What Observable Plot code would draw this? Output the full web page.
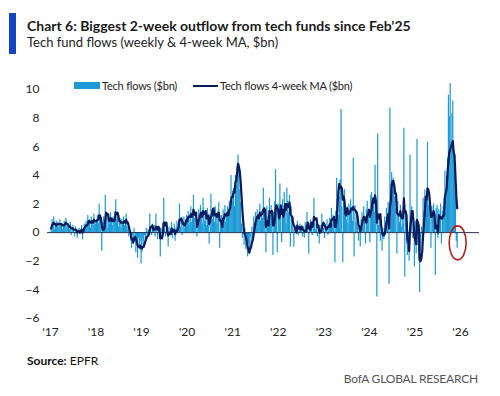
<!DOCTYPE html>
<html>
<head>
<meta charset="utf-8">
<script src="https://cdn.jsdelivr.net/npm/d3@7"></script>
<script src="https://cdn.jsdelivr.net/npm/@observablehq/plot@0.6"></script>
<style>
  html, body { margin: 0; padding: 0; background: #fff; }
  #wrap { position: relative; width: 500px; height: 396px; overflow: hidden; background: #fff; font-family: Lato, "Liberation Sans", sans-serif; color: #1a1a1a; }
  .abs { position: absolute; white-space: nowrap; }
  #chart { position: absolute; left: 0; top: 0; }
  .lg { position: absolute; font-size: 11px; line-height: 12px; color: #222; letter-spacing: -0.2px; top: 80px; }
</style>
</head>
<body>
<div id="wrap">
  <div class="abs" style="left:9px;top:13px;width:7px;height:41px;background:#1446c0"></div>
  <div class="abs" style="left:27px;top:19px;font-weight:700;font-size:14px;line-height:14px">Chart 6: Biggest 2-week outflow from tech funds since Feb’25</div>
  <div class="abs" style="left:27px;top:36px;font-size:13px;line-height:13px;color:#222">Tech fund flows (weekly &amp; 4-week MA, $bn)</div>
  <div id="chart"></div>
  <div class="abs" style="left:74px;top:82px;width:26px;height:7px;background:#1b9ad6"></div>
  <div class="lg" style="left:102px">Tech flows ($bn)</div>
  <div class="abs" style="left:193px;top:84.5px;width:25px;height:2px;background:#0b1b5e"></div>
  <div class="lg" style="left:220px">Tech flows 4-week MA ($bn)</div>
  <div class="abs" style="left:27px;top:355px;font-size:12px;line-height:12px;color:#111"><b>Source:</b> EPFR</div>
  <div class="abs" style="right:22px;top:373px;font-size:12px;line-height:12px;color:#555;letter-spacing:-0.2px">BofA GLOBAL RESEARCH</div>
</div>
<script>
// Weekly tech fund flows ($bn), one array per year (first week starts early January)
const flows2017 = [0.3,0.9,0.5,1.1,0.2,0.6,0.8,0.4,0.7,0.3,0.9,0.5,0.6,0.2,0.4,0.8,0.5,1.0,0.3,0.6,0.4,0.2,0.7,-0.2,0.3,0.5,0.1,-0.3,0.4,0.2,-0.4,0.1,0.3,-0.1,0.2,0.5,-0.5,0.3,0.6,0.2,0.8,0.4,1.2,0.6,0.9,0.3,1.1,0.7,0.5,1.3,0.8,0.6];
const flows2018 = [0.8,1.2,0.6,2.0,1.0,0.4,-1.3,0.7,1.1,0.5,2.6,1.3,0.9,0.3,1.2,0.6,1.4,0.8,0.5,1.1,0.7,1.5,2.3,0.9,1.2,0.4,0.8,1.0,0.3,0.9,0.6,1.1,0.5,0.8,1.3,0.4,0.2,-0.3,0.4,-0.6,-1.1,-0.2,-0.8,0.3,-0.5,-1.4,-0.7,-1.8,-0.4,-1.2,-0.6,-2.2];
const flows2019 = [-1.4,-0.5,-1.0,-0.2,-0.8,0.3,-0.4,0.2,-0.3,1.3,0.4,-0.2,0.6,0.1,0.5,-0.3,1.3,0.2,-0.5,0.4,0.1,-1.7,0.3,-0.4,0.6,2.4,0.2,-0.3,0.5,0.1,-1.0,0.4,-0.2,0.3,0.7,-0.4,0.2,0.6,-0.6,0.3,0.8,0.1,0.5,2.0,0.4,0.9,-0.2,0.7,1.1,0.3,0.8,1.2];
const flows2020 = [0.9,1.5,0.6,1.2,1.8,0.7,1.3,2.6,1.0,0.4,1.4,-0.3,0.8,1.6,0.9,1.9,1.1,0.6,2.4,1.2,0.8,1.5,0.5,1.7,1.0,-0.8,1.3,2.7,1.6,0.9,1.4,0.7,1.8,1.1,0.6,1.5,2.1,-1.1,0.8,1.2,0.5,1.6,1.0,1.9,0.7,1.3,1.8,1.1,2.2,1.5,4.0,2.3];
const flows2021 = [2.2,3.1,1.8,4.0,3.3,4.6,5.4,4.8,3.0,2.1,0.6,-0.4,0.8,-0.9,0.3,-1.2,-0.5,-1.7,-0.8,-1.5,-0.3,-1.2,0.4,-0.6,1.1,0.5,1.4,0.7,1.6,0.9,1.2,2.0,0.8,1.5,1.0,3.1,1.3,0.6,-1.4,1.8,1.1,0.7,2.4,1.2,1.9,0.5,-1.6,1.4,2.2,4.4,1.6,-1.4];
const flows2022 = [2.0,0.9,3.4,1.5,-0.7,2.3,1.2,2.8,1.7,0.6,3.1,2.2,1.4,2.6,-1.0,1.8,0.9,1.1,-1.0,0.4,0.2,0.5,0.8,-0.2,0.3,0.6,0.1,0.5,-0.3,0.4,-0.4,0.7,0.2,1.4,0.5,-1.5,0.6,0.9,0.3,-0.2,0.8,2.4,0.6,0.2,0.9,-0.3,0.4,-0.8,0.5,0.2,1.3,0.4];
const flows2023 = [0.3,-0.4,0.6,0.2,0.9,-0.2,0.5,1.0,0.3,1.7,0.6,1.2,0.8,-2.1,1.5,3.8,2.0,1.2,2.5,3.7,8.6,1.8,-2.1,2.6,3.0,1.4,0.9,1.8,0.6,2.0,1.2,2.3,1.5,0.8,5.2,-1.7,1.9,0.7,1.3,0.4,-0.6,0.5,-1.0,0.9,1.4,0.3,1.8,0.8,-0.8,1.6,2.2,1.1];
const flows2024 = [1.5,-0.7,2.6,2.8,1.9,2.2,1.4,4.7,1.0,-4.5,6.9,0.5,1.2,-0.6,0.8,-1.3,0.3,-0.5,1.1,0.4,1.7,0.9,2.1,-3.6,8.7,3.4,4.2,2.9,3.8,2.5,1.6,2.8,-1.5,2.2,1.3,0.7,1.9,0.4,1.1,0.6,7.3,-3.1,1.5,-0.8,-1.6,-0.9,-2.0,5.4,0.6,1.8,-0.4,0.9];
const flows2025 = [-2.4,0.8,-1.5,6.5,-0.9,-2.0,-4.2,-1.3,0.4,-0.8,2.4,1.5,3.0,2.1,2.8,6.3,1.9,2.6,1.2,-1.1,1.8,1.4,2.0,1.1,-3.0,1.7,1.9,-0.4,1.6,1.3,2.0,-0.8,1.5,1.8,2.4,4.3,3.1,4.0,5.2,9.6,8.1,10.4,6.0,8.3,9.2,5.8,4.6,2.9,-0.6,-1.1];

// 4-week moving average ($bn)
const ma2017 = [0.3,0.5,0.6,0.7,0.6,0.6,0.5,0.6,0.6,0.6,0.6,0.6,0.6,0.5,0.5,0.5,0.6,0.7,0.6,0.6,0.5,0.4,0.4,0.3,0.3,0.3,0.2,0.2,0.2,0.2,0.0,0.1,0.1,0.0,0.1,0.2,0.0,0.1,0.3,0.4,0.5,0.5,0.6,0.8,0.8,0.7,0.7,0.8,0.7,0.9,0.8,0.8];
const ma2018 = [0.8,0.9,0.9,1.2,1.2,1.0,0.5,0.2,0.2,0.3,0.9,1.4,1.3,1.3,0.9,0.8,1.0,1.0,0.8,0.9,0.8,0.9,1.4,1.3,1.4,1.2,0.8,0.8,0.7,0.7,0.7,0.7,0.8,0.7,0.9,0.7,0.7,0.4,0.1,0.0,-0.4,-0.4,-0.7,-0.5,-0.3,-0.4,-0.6,-0.9,-1.0,-1.0,-0.9,-1.1];
const ma2019 = [-1.1,-1.0,-1.0,-0.8,-0.6,-0.4,-0.3,-0.2,-0.1,0.2,0.4,0.4,0.5,0.2,0.2,0.2,0.4,0.4,0.2,0.4,0.3,-0.4,-0.3,-0.4,-0.1,0.7,0.7,0.5,0.7,0.1,-0.2,0.0,-0.1,-0.1,0.3,0.1,0.2,0.2,-0.1,0.1,0.1,0.2,0.4,0.9,0.9,1.0,0.8,0.6,0.6,0.5,0.7,0.9];
const ma2020 = [0.8,1.1,1.1,1.1,1.3,1.1,1.2,1.6,1.4,1.2,1.4,0.4,0.6,0.9,1.0,1.3,1.4,1.1,1.5,1.3,1.3,1.5,1.0,1.1,1.2,0.6,0.8,1.1,1.2,1.6,1.7,1.2,1.2,1.3,1.1,1.3,1.4,0.9,0.8,0.8,0.4,1.0,1.0,1.3,1.2,1.2,1.4,1.2,1.6,1.7,2.2,2.5];
const ma2021 = [2.5,2.9,2.8,3.5,3.6,4.2,4.8,4.6,4.3,3.6,2.6,1.6,0.8,0.0,-0.1,-0.3,-0.6,-1.0,-1.2,-1.4,-1.1,-1.0,-0.7,-0.5,-0.1,0.3,0.7,0.9,1.1,1.2,1.0,1.4,1.2,1.3,1.3,1.6,1.7,1.6,0.4,0.6,0.8,0.5,1.5,1.4,1.5,1.5,0.5,0.5,0.9,1.6,1.9,1.7];
const ma2022 = [1.6,1.0,1.2,1.9,1.3,1.6,1.1,1.4,2.0,1.6,2.0,1.9,1.8,2.1,1.3,1.2,1.1,0.7,0.5,0.4,0.2,0.0,0.5,0.3,0.3,0.4,0.2,0.4,0.2,0.2,0.1,0.1,0.1,0.5,0.7,0.3,0.4,0.2,0.7,0.4,0.5,1.1,0.9,1.0,1.0,0.4,0.5,0.1,0.0,0.1,0.3,0.6];
const ma2023 = [0.7,0.5,0.4,0.2,0.3,0.4,0.4,0.6,0.4,0.9,0.9,1.0,1.1,0.4,0.4,0.9,1.9,2.9,3.4,3.1,3.2,3.1,2.3,2.5,2.2,1.3,1.2,1.7,1.4,1.3,1.4,1.6,1.7,1.6,1.8,1.6,1.6,1.5,1.4,1.1,0.5,0.4,0.1,0.3,0.6,0.9,1.1,1.1,0.8,0.7,1.2,1.3];
const ma2024 = [1.6,1.1,1.4,1.6,2.1,2.4,2.1,2.6,2.2,0.7,1.3,1.0,1.0,1.3,0.5,0.0,-0.2,-0.2,-0.1,0.3,0.7,1.0,1.3,0.3,1.8,2.2,3.2,3.6,3.6,3.3,2.7,2.7,1.4,1.3,1.2,1.2,1.5,1.1,1.0,1.0,2.4,1.4,1.5,1.2,-0.5,-0.5,-1.3,0.2,0.8,1.5,1.5,0.7];
const ma2025 = [-0.3,-0.5,-0.8,0.9,0.7,0.5,-1.7,-2.0,-1.8,-1.3,-0.2,0.6,1.5,2.5,2.3,3.1,3.0,2.7,2.0,1.1,1.1,1.3,1.5,1.3,0.3,0.5,0.4,0.0,1.2,1.0,1.1,1.0,1.0,1.2,1.2,2.5,2.8,3.1,4.2,5.0,5.6,5.8,6.0,6.2,6.4,5.6,5.4,4.0,2.6,1.7];

const firstWeek = "2017-01-06";
const yTicks = [-6,-4,-2,0,2,4,6,8,10];
const xTickYears = [2017,2018,2019,2020,2021,2022,2023,2024,2025,2026];
const xTickLabels = ["'17","'18","'19","'20","'21","'22","'23","'24","'25","'26"];
const circledY = -0.75; // centre of the red highlight, $bn

const flows = [].concat(flows2017, flows2018, flows2019, flows2020, flows2021, flows2022, flows2023, flows2024, flows2025);
const ma = [].concat(ma2017, ma2018, ma2019, ma2020, ma2021, ma2022, ma2023, ma2024, ma2025);
const start = new Date(firstWeek + "T00:00:00Z");
const data = flows.map((v, i) => ({date: d3.utcDay.offset(start, 7 * i), flow: v, ma: ma[i]}));
const xTicks = xTickYears.map(y => new Date(Date.UTC(y, 0, 1)));

const chart = Plot.plot({
  width: 500,
  height: 345,
  marginTop: 89,
  marginBottom: 27,
  marginLeft: 47,
  marginRight: 21,
  style: {fontFamily: "Lato, 'Liberation Sans', sans-serif", fontSize: "12px", color: "#222", background: "transparent"},
  x: {type: "utc", domain: [new Date(Date.UTC(2016, 11, 8)), new Date(Date.UTC(2026, 5, 2))], ticks: xTicks, tickFormat: d => xTickLabels[xTickYears.indexOf(d.getUTCFullYear())], tickSize: 0, tickPadding: 9, label: null, line: false},
  y: {domain: [-6, 10], ticks: yTicks, tickSize: 0, tickPadding: 8, label: null, line: false},
  marks: [
    Plot.ruleX(data, {x: "date", y1: 0, y2: "flow", stroke: "#1b9ad6", strokeWidth: 1.2}),
    Plot.ruleY([0], {stroke: "#24324f", strokeWidth: 1}),
    Plot.line(data, {x: "date", y: "ma", stroke: "#0b1b5e", strokeWidth: 2.2, curve: "linear"})
  ]
});
document.getElementById("chart").appendChild(chart);

// red highlight ellipse around the latest weeks, positioned through the chart's own scales
const sx = chart.scale("x"), sy = chart.scale("y");
const last = data[data.length - 1];
d3.select(chart).append("ellipse")
  .attr("cx", sx.apply(last.date) + 1)
  .attr("cy", sy.apply(circledY))
  .attr("rx", 8.5).attr("ry", 17)
  .attr("fill", "none").attr("stroke", "#b0201e").attr("stroke-width", 1.6);
</script>
</body>
</html>
